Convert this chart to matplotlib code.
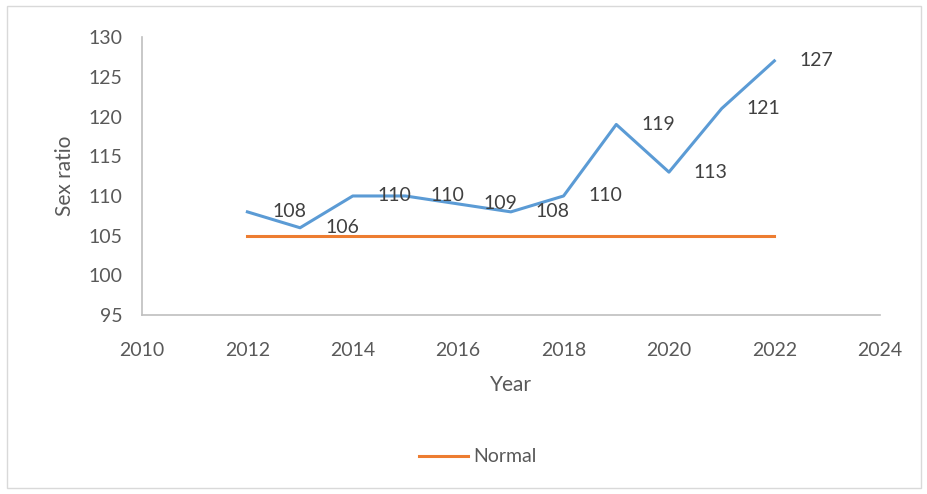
import matplotlib.pyplot as plt
from matplotlib.patches import Rectangle

plt.rcParams['font.family'] = ['Lato', 'DejaVu Sans']

years = [2012, 2013, 2014, 2015, 2016, 2017, 2018, 2019, 2020, 2021, 2022]
sex_ratio = [108, 106, 110, 110, 109, 108, 110, 119, 113, 121, 127]
normal = [105] * len(years)

blue = "#5B9BD5"
orange = "#ED7D31"
grey = "#595959"

fig = plt.figure(figsize=(9.28, 4.94), dpi=100)
ax = fig.add_axes([0.153, 0.362, 0.795, 0.563])

ax.plot(years, sex_ratio, color=blue, lw=2.2, label="_nolegend_")
ax.plot(years, normal, color=orange, lw=2.2, label="Normal")

for x, y in zip(years, sex_ratio):
    ax.annotate(str(y), (x, y), xytext=(18, 0), textcoords="offset points",
                ha="left", va="center", fontsize=14, color="#404040")

ax.set_xlim(2010, 2024)
ax.set_ylim(95, 130)
ax.set_xticks(range(2010, 2025, 2))
ax.set_yticks(range(95, 131, 5))
ax.tick_params(length=0, labelsize=14, labelcolor=grey)
ax.tick_params(axis="y", pad=14)
ax.tick_params(axis="x", pad=19)
ax.set_xlabel("Year", fontsize=15, color=grey, labelpad=12)
ax.set_ylabel("Sex ratio", fontsize=15, color=grey, labelpad=10)

for s in ["top", "right"]:
    ax.spines[s].set_visible(False)
for s in ["left", "bottom"]:
    ax.spines[s].set_color("#BFBFBF")
    ax.spines[s].set_linewidth(1.2)

fig.legend(loc="center", bbox_to_anchor=(0.515, 0.075), frameon=False,
           fontsize=14, handlelength=2.5, handletextpad=0.3, labelcolor=grey)

fig.patches.append(Rectangle((0.008, 0.012), 0.984, 0.976, transform=fig.transFigure,
                             fill=False, edgecolor="#D9D9D9", lw=1))

fig.savefig("out.png", dpi=100)
